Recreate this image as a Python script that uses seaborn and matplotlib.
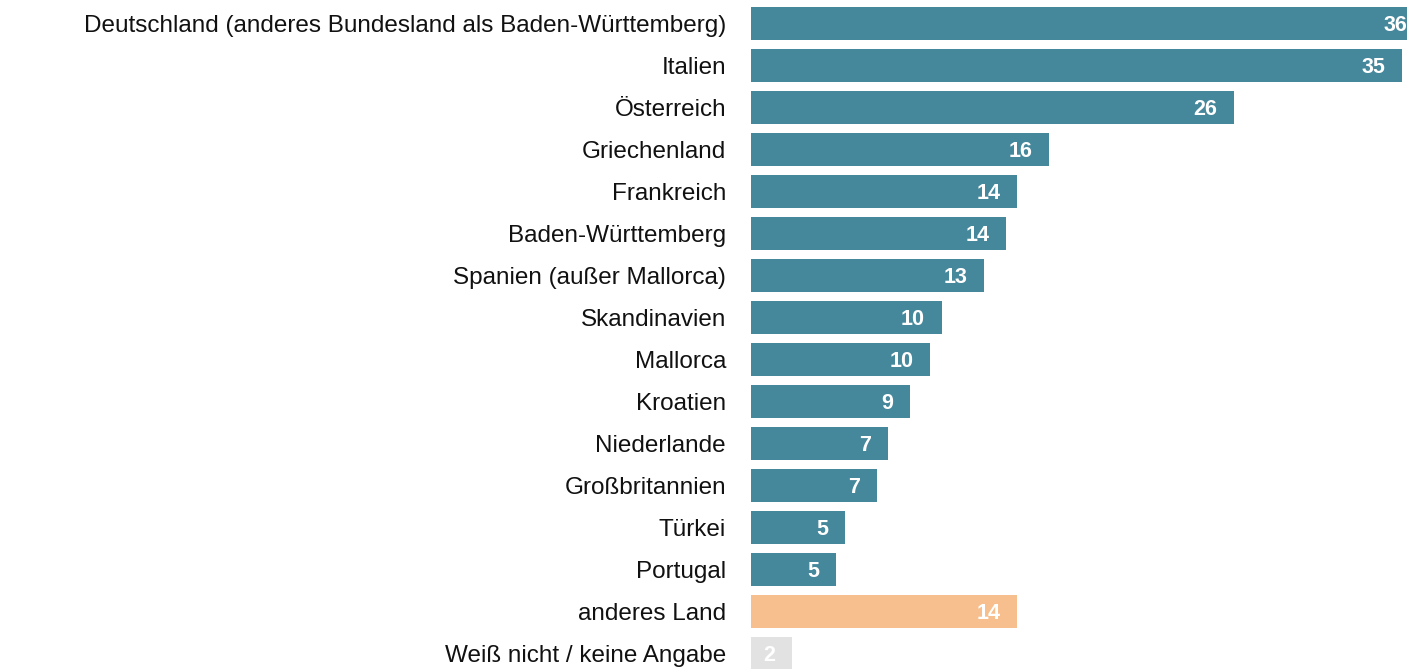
import matplotlib
matplotlib.use("Agg")
import matplotlib.pyplot as plt
import seaborn as sns
import pandas as pd

# Reiseziele (Anteile in Prozent)
categories = [
    "Deutschland (anderes Bundesland als Baden-Württemberg)",
    "Italien",
    "Österreich",
    "Griechenland",
    "Frankreich",
    "Baden-Württemberg",
    "Spanien (außer Mallorca)",
    "Skandinavien",
    "Mallorca",
    "Kroatien",
    "Niederlande",
    "Großbritannien",
    "Türkei",
    "Portugal",
    "anderes Land",
    "Weiß nicht / keine Angabe",
]
values = [36.4, 35.2, 26.1, 16.1, 14.4, 13.8, 12.6, 10.3, 9.7, 8.6, 7.4, 6.8, 5.1, 4.6, 14.4, 2.2]

TEAL = "#45879B"
ORANGE = "#F7BF8D"
GREY = "#E2E2E2"
colors = {c: TEAL for c in categories}
colors["anderes Land"] = ORANGE
colors["Weiß nicht / keine Angabe"] = GREY

df = pd.DataFrame({"Land": categories, "Anteil": values})

sns.set_theme(style="white")
plt.rcParams["font.family"] = ["Liberation Sans", "DejaVu Sans"]

W, H = 1407, 669
fig = plt.figure(figsize=(W / 100, H / 100), dpi=100)

px_per_unit = 18.5
xmax = 36.4
ax_left = 751 / W
ax_width = xmax * px_per_unit / W
row = 42
ax_top = 1 - 2.5 / H
ax_height = 16 * row / H
ax = fig.add_axes([ax_left, ax_top - ax_height, ax_width, ax_height])

sns.barplot(
    data=df, y="Land", x="Anteil", hue="Land", palette=colors,
    order=categories, hue_order=categories, legend=False,
    width=33 / 42, orient="h", ax=ax, saturation=1, edgecolor="none",
)

ax.set_xlim(0, xmax)
ax.set_ylim(len(categories) - 0.5, -0.5)
ax.set_xlabel("")
ax.set_ylabel("")
ax.set_xticks([])
for s in ax.spines.values():
    s.set_visible(False)
ax.tick_params(axis="y", length=0, pad=18, labelsize=17.5, labelcolor="#111111")

# Wertbeschriftungen rechtsbündig im Balken
for i, v in enumerate(values):
    ax.annotate(f"{v:.0f}", xy=(v, i), xytext=(-12, -1.5), textcoords="offset points",
                ha="right", va="center", color="white", fontsize=15.5,
                fontweight="bold", annotation_clip=False)

fig.savefig("out.png", dpi=100)
